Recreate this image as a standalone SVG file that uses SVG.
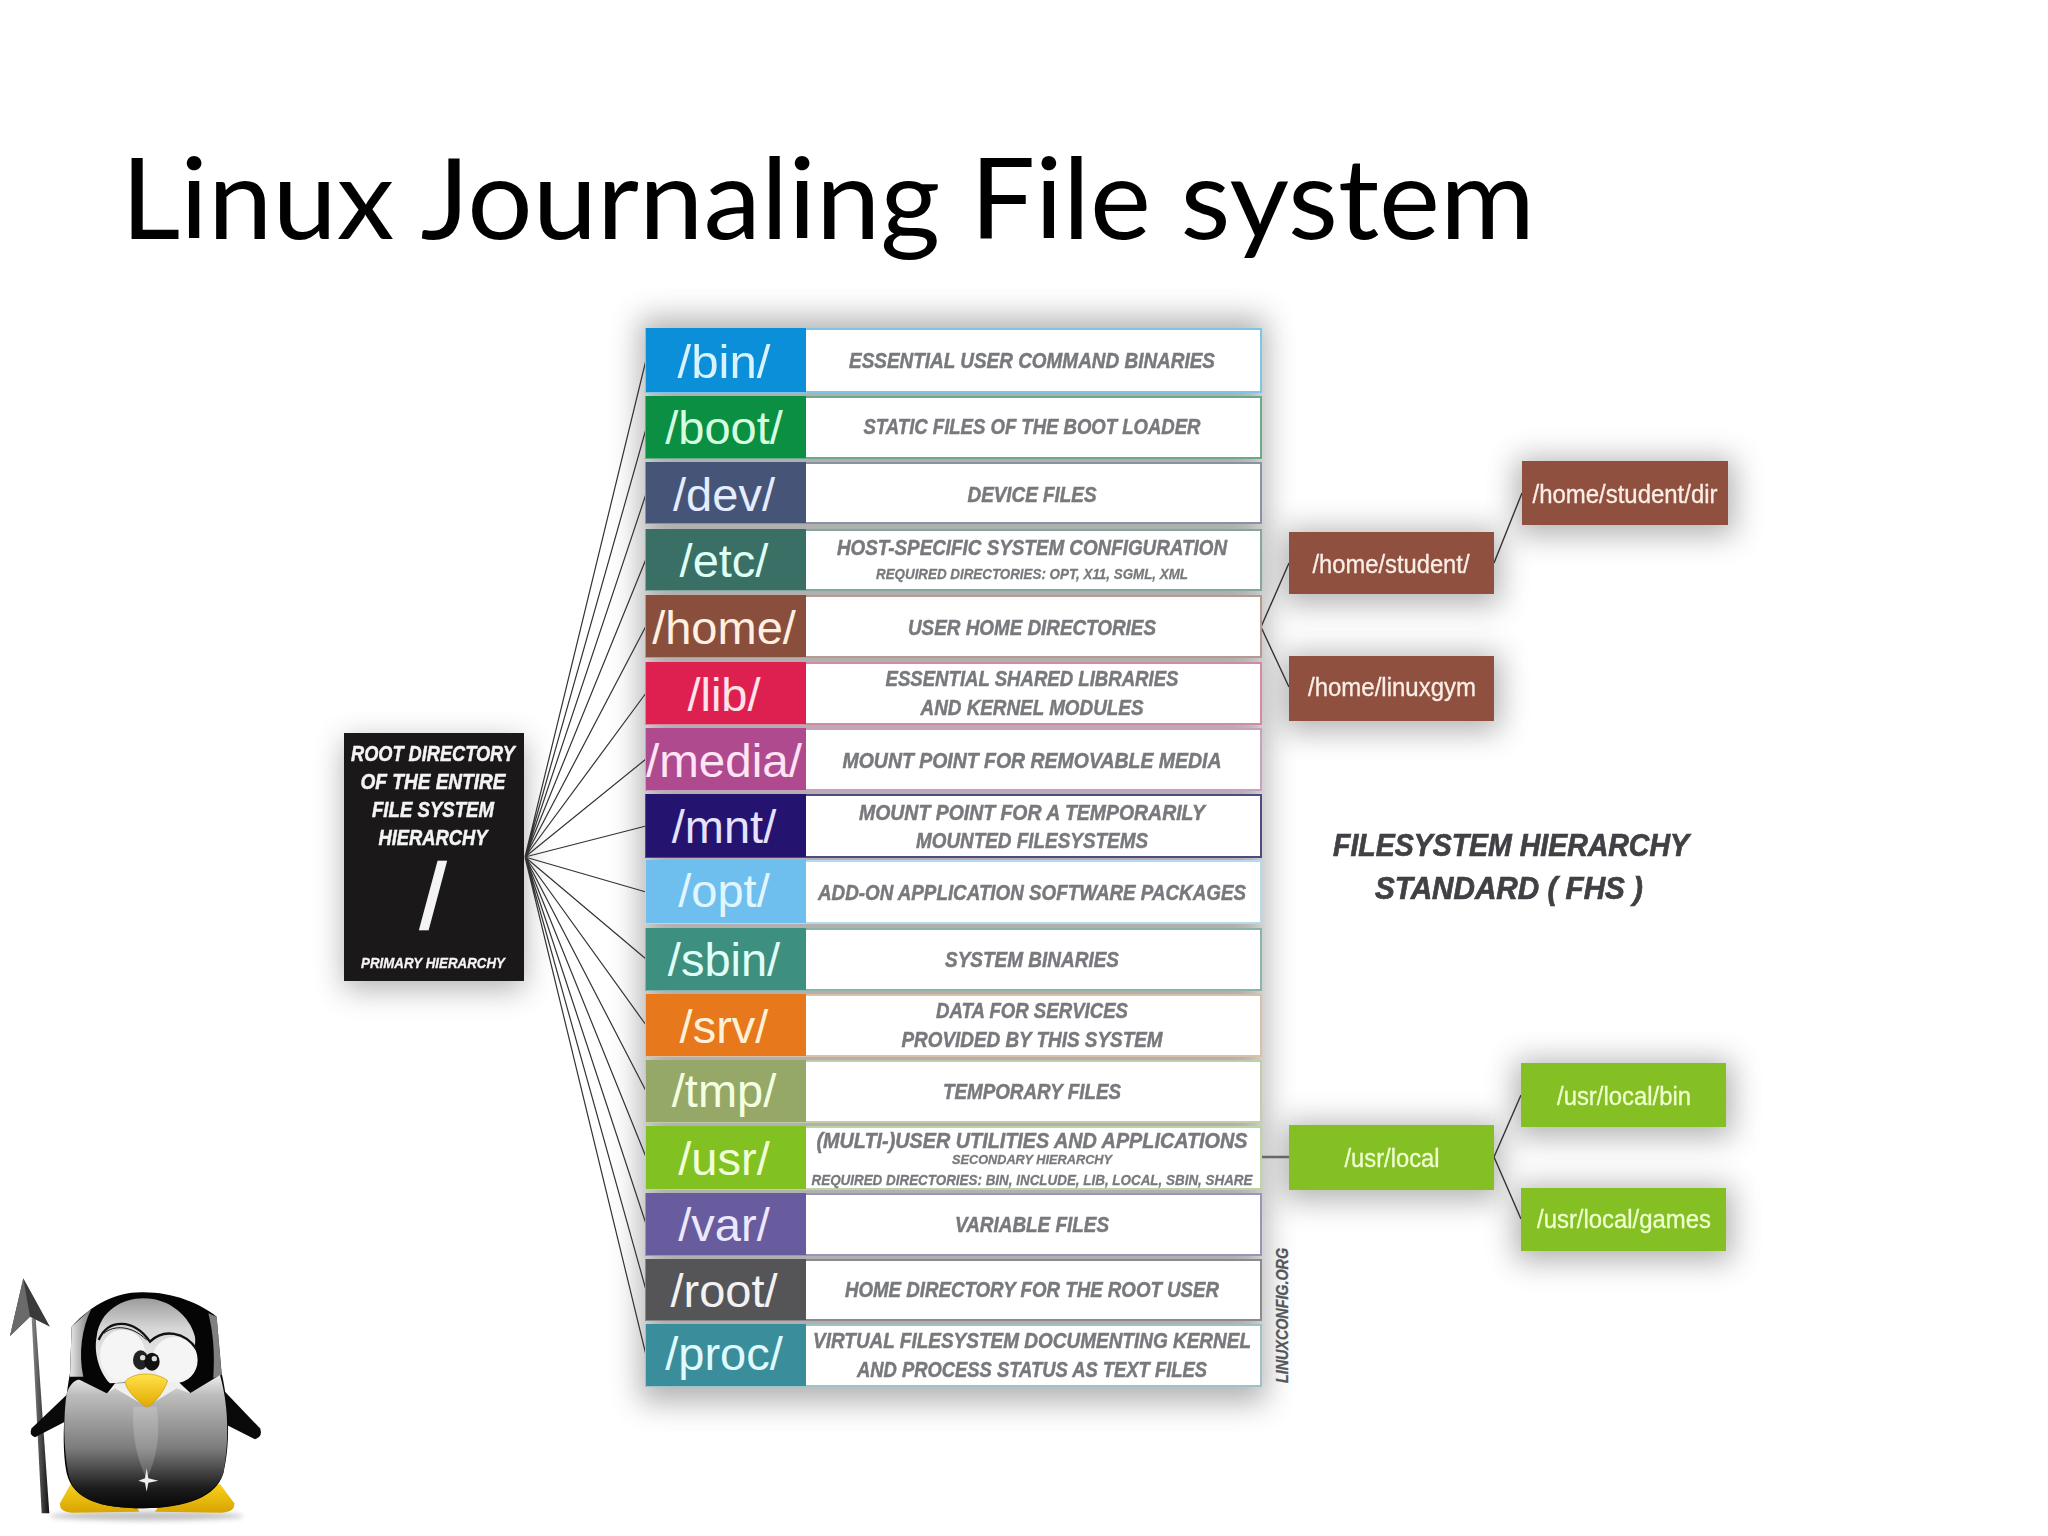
<svg xmlns="http://www.w3.org/2000/svg" width="2048" height="1536" viewBox="0 0 2048 1536">
<style>
.title{font-family:Lato,"Open Sans",sans-serif;font-size:113px;fill:#000}
.dir{font-family:"Liberation Sans",Arial,sans-serif;font-size:47px;text-anchor:middle}
.desc{font-family:"Liberation Sans",Arial,sans-serif;font-weight:bold;font-style:italic;font-size:22px;fill:#77797d;stroke:#77797d;stroke-width:.5;text-anchor:middle;filter:url(#soft)}
.blk{font-family:"Liberation Sans",Arial,sans-serif;font-weight:bold;font-style:italic;font-size:22px;fill:#f4f4f4;stroke:#f4f4f4;stroke-width:.5;text-anchor:middle;filter:url(#soft)}
.s15{font-size:15px;stroke-width:.3}.s13{font-size:13px;stroke-width:.3}
.fhs{font-family:"Liberation Sans",Arial,sans-serif;font-weight:bold;font-style:italic;font-size:31px;fill:#3f4044;stroke:#3f4044;stroke-width:.7;text-anchor:middle;filter:url(#soft)}
.sub{font-family:"Liberation Sans",Arial,sans-serif;font-size:25px;stroke-width:.3;text-anchor:middle;filter:url(#soft)}
.cell{fill:#fff;stroke-width:2}
.shadow{fill:#444;opacity:.42;filter:url(#blur)}
.fan{stroke:#333;stroke-width:1.2;fill:none}
.link{stroke:#333;stroke-width:1.4;fill:none}
.brown{fill:#8f503f}.green{fill:#84bf24}
.bt{fill:#fbeee6;stroke:#fbeee6}.gt{fill:#efffd0;stroke:#efffd0}
</style>
<defs>
<filter id="blur" x="-30%" y="-40%" width="160%" height="180%"><feGaussianBlur stdDeviation="15"/></filter>
<filter id="soft"><feGaussianBlur stdDeviation=".45"/></filter>
<filter id="pblur" x="-30%" y="-100%" width="160%" height="300%"><feGaussianBlur stdDeviation="8"/></filter>
<linearGradient id="belly" x1="0" y1="0" x2="0" y2="1"><stop offset="0" stop-color="#eeeeee"/><stop offset=".15" stop-color="#bdbdbd"/><stop offset=".55" stop-color="#7c7c7c"/><stop offset=".85" stop-color="#1c1c1c"/><stop offset="1" stop-color="#060606"/></linearGradient>
<linearGradient id="dome" x1="0" y1="0" x2="0" y2="1"><stop offset="0" stop-color="#9c9c9c"/><stop offset=".35" stop-color="#d6d6d6"/><stop offset="1" stop-color="#f2f2f2"/></linearGradient>
<linearGradient id="strip" x1="0" y1="0" x2="1" y2="0"><stop offset="0" stop-color="#e8e8e8"/><stop offset="1" stop-color="#777"/></linearGradient>
<linearGradient id="beak" x1="0" y1="0" x2="0" y2="1"><stop offset="0" stop-color="#ffe34a"/><stop offset="1" stop-color="#e2a800"/></linearGradient>
<linearGradient id="foot" x1="0" y1="0" x2="0" y2="1"><stop offset="0" stop-color="#f7d21c"/><stop offset="1" stop-color="#d9a400"/></linearGradient>
<linearGradient id="spear" x1="0" y1="0" x2="1" y2="0"><stop offset="0" stop-color="#888"/><stop offset="1" stop-color="#111"/></linearGradient>
</defs>
<rect width="2048" height="1536" fill="#fff"/>
<text class="title" x="121" y="239" textLength="1414" lengthAdjust="spacingAndGlyphs">Linux Journaling File system</text>

<rect class="shadow" x="640" y="318" width="626" height="1084"/>
<rect class="shadow" x="344" y="741" width="180" height="248"/>
<rect class="shadow" x="1516" y="459" width="218" height="76"/>
<rect class="shadow" x="1283" y="530" width="217" height="74"/>
<rect class="shadow" x="1283" y="654" width="217" height="77"/>
<rect class="shadow" x="1283" y="1123" width="217" height="77"/>
<rect class="shadow" x="1515" y="1061" width="217" height="76"/>
<rect class="shadow" x="1515" y="1186" width="217" height="75"/>

<g id="connectors">
<path class="fan" d="M525 857L646 360M525 857L646 429M525 857L646 494M525 857L646 559M525 857L646 626M525 857L646 693M525 857L646 759M525 857L646 826M525 857L646 892M525 857L646 959M525 857L646 1025M525 857L646 1091M525 857L646 1157M525 857L646 1224M525 857L646 1290M525 857L646 1355"/>
<path class="link" d="M1261 627L1289 563M1261 627L1289 687M1494 563L1522 493M1494 1157L1521 1095M1494 1157L1521 1219"/>
<path d="M1261 1157H1289" stroke="#666" stroke-width="2.5" fill="none"/>
</g>

<g id="root-node"><rect x="344" y="733" width="180" height="248" fill="#1a1818"/>
<text class="blk" x="433" y="761" textLength="164" lengthAdjust="spacingAndGlyphs">ROOT DIRECTORY</text>
<text class="blk" x="433" y="789" textLength="145" lengthAdjust="spacingAndGlyphs">OF THE ENTIRE</text>
<text class="blk" x="433" y="817" textLength="122" lengthAdjust="spacingAndGlyphs">FILE SYSTEM</text>
<text class="blk" x="433" y="845" textLength="109" lengthAdjust="spacingAndGlyphs">HIERARCHY</text>
<text class="blk" x="433" y="928" style="font-size:90px;font-style:normal;font-weight:normal;stroke-width:2.5">/</text>
<text class="blk s15" x="433" y="968" textLength="144" lengthAdjust="spacingAndGlyphs">PRIMARY HIERARCHY</text></g>

<g id="row-bin"><rect class="cell" x="646" y="329" width="615" height="63" stroke="#7cc6e6"/><rect x="646" y="328" width="160" height="64" fill="#0a8fd8"/><text class="dir" x="724" y="378" fill="#d9f2ff" textLength="93" lengthAdjust="spacingAndGlyphs">/bin/</text><text class="desc" x="1032" y="368" textLength="366" lengthAdjust="spacingAndGlyphs">ESSENTIAL USER COMMAND BINARIES</text></g>
<g id="row-boot"><rect class="cell" x="646" y="397" width="615" height="61" stroke="#6aa98a"/><rect x="646" y="396" width="160" height="62" fill="#0a8f43"/><text class="dir" x="724" y="444" fill="#d6ffe0">/boot/</text><text class="desc" x="1032" y="434" textLength="337" lengthAdjust="spacingAndGlyphs">STATIC FILES OF THE BOOT LOADER</text></g>
<g id="row-dev"><rect class="cell" x="646" y="463" width="615" height="60" stroke="#8a93a6"/><rect x="646" y="462" width="160" height="61" fill="#465478"/><text class="dir" x="724" y="511" fill="#e4ecff">/dev/</text><text class="desc" x="1032" y="502" textLength="129" lengthAdjust="spacingAndGlyphs">DEVICE FILES</text></g>
<g id="row-etc"><rect class="cell" x="646" y="530" width="615" height="60" stroke="#85a69f"/><rect x="646" y="529" width="160" height="61" fill="#3a6f66"/><text class="dir" x="724" y="577" fill="#defff4">/etc/</text><text class="desc" x="1032" y="555" textLength="390" lengthAdjust="spacingAndGlyphs">HOST-SPECIFIC SYSTEM CONFIGURATION</text><text class="desc s15" x="1032" y="579" textLength="312" lengthAdjust="spacingAndGlyphs">REQUIRED DIRECTORIES: OPT, X11, SGML, XML</text></g>
<g id="row-home"><rect class="cell" x="646" y="596" width="615" height="61" stroke="#b59a90"/><rect x="646" y="595" width="160" height="62" fill="#8a4f3c"/><text class="dir" x="724" y="644" fill="#fff0e2">/home/</text><text class="desc" x="1032" y="635" textLength="248" lengthAdjust="spacingAndGlyphs">USER HOME DIRECTORIES</text></g>
<g id="row-lib"><rect class="cell" x="646" y="663" width="615" height="61" stroke="#d58aa0"/><rect x="646" y="662" width="160" height="62" fill="#de2050"/><text class="dir" x="724" y="711" fill="#ffe2ea">/lib/</text><text class="desc" x="1032" y="686" textLength="293" lengthAdjust="spacingAndGlyphs">ESSENTIAL SHARED LIBRARIES</text><text class="desc" x="1032" y="715" textLength="223" lengthAdjust="spacingAndGlyphs">AND KERNEL MODULES</text></g>
<g id="row-media"><rect class="cell" x="646" y="729" width="615" height="61" stroke="#c9a0bd"/><rect x="646" y="728" width="160" height="62" fill="#b04a8f"/><text class="dir" x="724" y="777" fill="#ffe4f6" textLength="156" lengthAdjust="spacingAndGlyphs">/media/</text><text class="desc" x="1032" y="768" textLength="379" lengthAdjust="spacingAndGlyphs">MOUNT POINT FOR REMOVABLE MEDIA</text></g>
<g id="row-mnt"><rect class="cell" x="646" y="795" width="615" height="62" stroke="#4f4a84"/><rect x="646" y="794" width="160" height="63" fill="#24146f"/><text class="dir" x="724" y="843" fill="#e4e2ff">/mnt/</text><text class="desc" x="1032" y="820" textLength="346" lengthAdjust="spacingAndGlyphs">MOUNT POINT FOR A TEMPORARILY</text><text class="desc" x="1032" y="848" textLength="232" lengthAdjust="spacingAndGlyphs">MOUNTED FILESYSTEMS</text></g>
<g id="row-opt"><rect class="cell" x="646" y="861" width="615" height="62" stroke="#b6dbe8"/><rect x="646" y="860" width="160" height="63" fill="#6fbfee"/><text class="dir" x="724" y="907" fill="#e2f6ff">/opt/</text><text class="desc" x="1032" y="900" textLength="428" lengthAdjust="spacingAndGlyphs">ADD-ON APPLICATION SOFTWARE PACKAGES</text></g>
<g id="row-sbin"><rect class="cell" x="646" y="929" width="615" height="61" stroke="#8ab4ab"/><rect x="646" y="928" width="160" height="62" fill="#3d8f80"/><text class="dir" x="724" y="976" fill="#e0fff8">/sbin/</text><text class="desc" x="1032" y="967" textLength="174" lengthAdjust="spacingAndGlyphs">SYSTEM BINARIES</text></g>
<g id="row-srv"><rect class="cell" x="646" y="995" width="615" height="61" stroke="#dcc0a4"/><rect x="646" y="994" width="160" height="62" fill="#e8781c"/><text class="dir" x="724" y="1043" fill="#fff0d8">/srv/</text><text class="desc" x="1032" y="1018" textLength="192" lengthAdjust="spacingAndGlyphs">DATA FOR SERVICES</text><text class="desc" x="1032" y="1047" textLength="261" lengthAdjust="spacingAndGlyphs">PROVIDED BY THIS SYSTEM</text></g>
<g id="row-tmp"><rect class="cell" x="646" y="1061" width="615" height="61" stroke="#c4cdaa"/><rect x="646" y="1060" width="160" height="62" fill="#96a868"/><text class="dir" x="724" y="1107" fill="#f4ffe0">/tmp/</text><text class="desc" x="1032" y="1099" textLength="178" lengthAdjust="spacingAndGlyphs">TEMPORARY FILES</text></g>
<g id="row-usr"><rect class="cell" x="646" y="1127" width="615" height="62" stroke="#bcd6a0"/><rect x="646" y="1126" width="160" height="63" fill="#82c122"/><text class="dir" x="724" y="1175" fill="#f0ffd8">/usr/</text><text class="desc" x="1032" y="1148" textLength="431" lengthAdjust="spacingAndGlyphs">(MULTI-)USER UTILITIES AND APPLICATIONS</text><text class="desc s13" x="1032" y="1164" textLength="160" lengthAdjust="spacingAndGlyphs">SECONDARY HIERARCHY</text><text class="desc s15" x="1032" y="1185" textLength="441" lengthAdjust="spacingAndGlyphs">REQUIRED DIRECTORIES: BIN, INCLUDE, LIB, LOCAL, SBIN, SHARE</text></g>
<g id="row-var"><rect class="cell" x="646" y="1194" width="615" height="61" stroke="#9a94bb"/><rect x="646" y="1193" width="160" height="62" fill="#685c9e"/><text class="dir" x="724" y="1241" fill="#ece8ff">/var/</text><text class="desc" x="1032" y="1232" textLength="154" lengthAdjust="spacingAndGlyphs">VARIABLE FILES</text></g>
<g id="row-root"><rect class="cell" x="646" y="1260" width="615" height="60" stroke="#8b8b8e"/><rect x="646" y="1259" width="160" height="61" fill="#555558"/><text class="dir" x="724" y="1307" fill="#f2f2f2">/root/</text><text class="desc" x="1032" y="1297" textLength="374" lengthAdjust="spacingAndGlyphs">HOME DIRECTORY FOR THE ROOT USER</text></g>
<g id="row-proc"><rect class="cell" x="646" y="1325" width="615" height="61" stroke="#9dc2c8"/><rect x="646" y="1324" width="160" height="62" fill="#3a8e9c"/><text class="dir" x="724" y="1370" fill="#e0fbff">/proc/</text><text class="desc" x="1032" y="1348" textLength="438" lengthAdjust="spacingAndGlyphs">VIRTUAL FILESYSTEM DOCUMENTING KERNEL</text><text class="desc" x="1032" y="1377" textLength="350" lengthAdjust="spacingAndGlyphs">AND PROCESS STATUS AS TEXT FILES</text></g>

<g id="home-student"><rect class="brown" x="1289" y="532" width="205" height="62"/><text class="sub bt" x="1391" y="573" textLength="157" lengthAdjust="spacingAndGlyphs">/home/student/</text></g>
<g id="home-student-dir"><rect class="brown" x="1522" y="461" width="206" height="64"/><text class="sub bt" x="1625" y="503" textLength="185" lengthAdjust="spacingAndGlyphs">/home/student/dir</text></g>
<g id="home-linuxgym"><rect class="brown" x="1289" y="656" width="205" height="65"/><text class="sub bt" x="1392" y="696" textLength="168" lengthAdjust="spacingAndGlyphs">/home/linuxgym</text></g>
<g id="usr-local"><rect class="green" x="1289" y="1125" width="205" height="65"/><text class="sub gt" x="1392" y="1167" textLength="95" lengthAdjust="spacingAndGlyphs">/usr/local</text></g>
<g id="usr-local-bin"><rect class="green" x="1521" y="1063" width="205" height="64"/><text class="sub gt" x="1624" y="1105" textLength="134" lengthAdjust="spacingAndGlyphs">/usr/local/bin</text></g>
<g id="usr-local-games"><rect class="green" x="1521" y="1188" width="205" height="63"/><text class="sub gt" x="1624" y="1228" textLength="174" lengthAdjust="spacingAndGlyphs">/usr/local/games</text></g>

<text class="fhs" x="1511" y="856" textLength="356" lengthAdjust="spacingAndGlyphs">FILESYSTEM HIERARCHY</text>
<text class="fhs" x="1509" y="899" textLength="268" lengthAdjust="spacingAndGlyphs">STANDARD ( FHS )</text>
<text transform="translate(1288 1383) rotate(-90)" x="0" y="0" style="font-family:'Liberation Sans',Arial,sans-serif;font-weight:bold;font-style:italic;font-size:16px;fill:#55565a;stroke:#55565a;stroke-width:.3" textLength="135" lengthAdjust="spacingAndGlyphs">LINUXCONFIG.ORG</text>

<g id="penguin" transform="translate(0 1260) scale(.3333)">
<ellipse cx="440" cy="768" rx="290" ry="14" fill="#888" opacity=".5" filter="url(#pblur)"/>
<path d="M95 175L107 175L148 760L125 760Z" fill="url(#spear)"/>
<path d="M70 55L150 200L90 170L30 228Z" fill="#3a3a3a"/>
<path d="M70 55L90 170L30 228Z" fill="#6a6a6a"/>
<path d="M205 400L95 505Q85 525 105 532L205 480Z" fill="#0a0a0a"/>
<path d="M670 390L780 505Q790 530 765 538L670 490Z" fill="#0a0a0a"/>
<path d="M212 672L180 730Q178 757 215 758L418 755L400 720Z" fill="url(#foot)"/>
<path d="M660 672L703 730Q705 757 665 758L465 755L490 720Z" fill="url(#foot)"/>
<path d="M215 200C280 130 350 95 430 97C520 97 600 130 650 170L665 340C690 450 690 560 670 640C650 710 560 745 430 745C300 745 220 720 200 640C185 560 190 450 210 340Z" fill="#050505"/>
<path d="M215 200L275 145C245 205 235 280 250 350L210 350Z" fill="url(#strip)"/>
<path d="M650 170L665 345L640 355C645 280 640 220 625 160Z" fill="#aaa" opacity=".75"/>
<path d="M290 230C300 150 370 115 430 115C510 115 570 170 585 230C590 260 570 350 540 360L330 370C300 340 280 280 290 230Z" fill="url(#dome)"/>
<ellipse cx="368" cy="285" rx="68" ry="76" fill="#f5f5f5"/>
<ellipse cx="525" cy="300" rx="68" ry="70" fill="#f5f5f5"/>
<path d="M296 240C325 175 400 175 450 245C490 205 555 215 590 268" fill="none" stroke="#111" stroke-width="7"/>
<path d="M312 220C340 195 395 195 440 240" fill="none" stroke="#111" stroke-width="3"/>
<ellipse cx="422" cy="300" rx="23" ry="29" fill="#222"/>
<ellipse cx="456" cy="305" rx="23" ry="27" fill="#111"/>
<circle cx="428" cy="293" r="8" fill="#ddd"/><circle cx="463" cy="296" r="8" fill="#ddd"/>
<path d="M322 400L345 370L535 365L572 400L440 445Z" fill="#efefef"/>
<path d="M200 400C210 370 230 355 240 360L320 400L345 385L440 440L530 385L570 400L660 345C690 450 685 560 670 640C650 700 560 745 430 745C300 745 220 720 205 640C190 560 190 470 200 400Z" fill="url(#belly)"/>
<path d="M400 440L470 440C482 520 470 600 440 655C410 600 395 520 400 440Z" fill="#fff" opacity=".18"/>
<path d="M375 365C400 335 470 335 503 362C490 400 460 435 440 442C415 425 380 395 375 365Z" fill="url(#beak)" stroke="#c99700" stroke-width="2"/>
<path d="M440 625L445 655L475 662L445 668L440 695L435 668L415 662L435 655Z" fill="#eee"/>
</g>
</svg>
